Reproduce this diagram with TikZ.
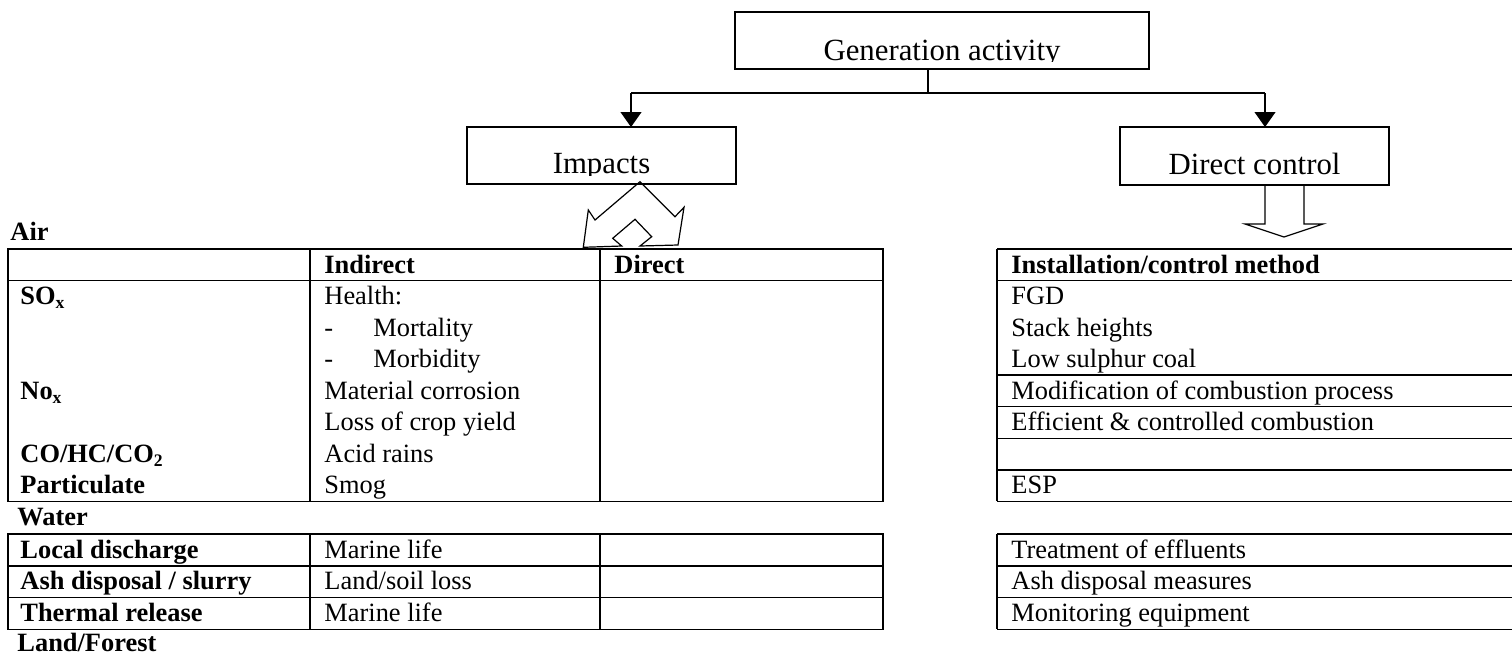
\documentclass[tikz,border=0pt]{standalone}
\usepackage{fontspec}
\setmainfont{Liberation Serif}
\usetikzlibrary{arrows.meta}
\begin{document}
\begin{tikzpicture}[x=0.4545pt,y=-0.4545pt,
  box/.style={draw,line width=0.55pt,inner sep=0pt,outer sep=0pt},
  boxtext/.style={font=\fontsize{14}{16}\selectfont,anchor=base,inner sep=0pt},
  cell/.style={font=\fontsize{12}{14}\selectfont,anchor=base west,inner sep=0pt},
  bcell/.style={font=\fontsize{12}{14}\selectfont\bfseries,anchor=base west,inner sep=0pt},
  rule/.style={line width=0.7pt},
  link/.style={line width=0.55pt},
  arr/.style={line width=0.55pt,-{Triangle[length=6.8pt,width=9.5pt]}},
  outline/.style={line width=0.55pt,line join=miter}]
\useasboundingbox (0,0) rectangle (1512,656);

% ---- flow boxes ----
\node[box,minimum width={414*0.4545pt},minimum height={57*0.4545pt}] (gen) at (942,40.5) {};
\node[box,minimum width={269*0.4545pt},minimum height={57*0.4545pt}] (imp) at (601.5,155.5) {};
\node[box,minimum width={269*0.4545pt},minimum height={58*0.4545pt}] (dc) at (1254.5,156) {};

\begin{scope}
  \clip (735,12) rectangle (1149,61.5);
  \node[boxtext] (gentext) at (942,60) {Generation activity};
\end{scope}
\begin{scope}
  \clip (467,127) rectangle (736,175.5);
  \node[boxtext] (imptext) at (601.5,173) {Impacts};
\end{scope}
\node[boxtext] (dctext) at (1254.5,174) {Direct control};

% ---- connectors ----
\coordinate (stub) at (928,93);
\coordinate (ltee) at (631,93);
\coordinate (rtee) at (1265,93);
\draw[link] (gen.south -| stub) -- (stub);
\draw[link] (ltee) -- (rtee);
\draw[arr] (ltee) -- (ltee |- imp.north);
\draw[arr] (rtee) -- (rtee |- dc.north);

% ---- block arrow below "Direct control" ----
\draw[outline] (1265,185) -- (1265,224) -- (1245,224) -- (1284,237)
  -- (1323,224) -- (1304,224) -- (1304,185);

% ---- two-headed bent arrow below "Impacts" ----
\draw[outline] (640,181.7) -- (595,220) -- (588.3,210) -- (583.3,247.3)
  -- (621.7,246) -- (612.7,238.3) -- (635,219.3) -- (651.7,236.7)
  -- (640,246) -- (678,245) -- (684,207.3) -- (675,216.7) -- cycle;

% ---- air table (impacts) ----
\draw[rule] (8,249) rectangle (883,501.4);
\draw[rule] (8,280.5) -- (883,280.5);
\draw[rule] (310,249) -- (310,501.4);
\draw[rule] (600,249) -- (600,501.4);

% ---- water table (impacts) ----
\draw[rule] (8,534) rectangle (883,629.3);
\draw[rule] (8,565.8) -- (883,565.8);
\draw[rule] (8,597.5) -- (883,597.5);
\draw[rule] (310,534) -- (310,629.3);
\draw[rule] (600,534) -- (600,629.3);

% ---- control tables ----
\foreach \yy in {249,280.5,375.2,406.7,438.3,469.8,501.4,534,565.8,597.5,629.3}
  \draw[rule] (997,\yy) -- (1512,\yy);
\draw[rule] (997,249) -- (997,501.4);
\draw[rule] (997,534) -- (997,629.3);

% ---- section labels ----
\node[bcell] (lair) at (10,240) {Air};
\node[bcell] (lwater) at (17,525.4) {Water};
\node[bcell] (lland) at (17,651) {Land/Forest};

% ---- header row ----
\node[bcell] (hind) at (324,273) {Indirect};
\node[bcell] (hdir) at (614,273) {Direct};
\node[bcell] (hctl) at (1011,273) {Installation/control method};

% ---- air rows ----
\node[bcell] (a1) at (20,304.5) {SO\textsubscript{x}};
\node[bcell] (a4) at (20,399.2) {No\textsubscript{x}};
\node[bcell] (a6) at (20,462.3) {CO/HC/CO\textsubscript{2}};
\node[bcell] (a7) at (20,493.8) {Particulate};

\node[cell] (i1) at (324,304.5) {Health:};
\node[cell] (i2d) at (324,336) {-};
\node[cell] (i2) at (373,336) {Mortality};
\node[cell] (i3d) at (324,367.6) {-};
\node[cell] (i3) at (373,367.6) {Morbidity};
\node[cell] (i4) at (324,399.2) {Material corrosion};
\node[cell] (i5) at (324,430.7) {Loss of crop yield};
\node[cell] (i6) at (324,462.3) {Acid rains};
\node[cell] (i7) at (324,493.8) {Smog};

\node[cell] (c1) at (1011,304.5) {FGD};
\node[cell] (c2) at (1011,336) {Stack heights};
\node[cell] (c3) at (1011,367.6) {Low sulphur coal};
\node[cell] (c4) at (1011,399.2) {Modification of combustion process};
\node[cell] (c5) at (1011,430.7) {Efficient \& controlled combustion};
\node[cell] (c7) at (1011,493.8) {ESP};

% ---- water rows ----
\node[bcell] (w1) at (20,558) {Local discharge};
\node[bcell] (w2) at (20,589.8) {Ash disposal / slurry};
\node[bcell] (w3) at (20,621.5) {Thermal release};
\node[cell] (wi1) at (324,558) {Marine life};
\node[cell] (wi2) at (324,589.8) {Land/soil loss};
\node[cell] (wi3) at (324,621.5) {Marine life};
\node[cell] (wc1) at (1011,558) {Treatment of effluents};
\node[cell] (wc2) at (1011,589.8) {Ash disposal measures};
\node[cell] (wc3) at (1011,621.5) {Monitoring equipment};
\end{tikzpicture}
\end{document}
